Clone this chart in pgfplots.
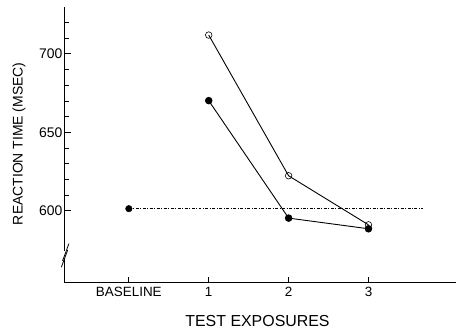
\documentclass[border=0pt]{standalone}
\usepackage{pgfplots}
\pgfplotsset{compat=1.18}
\usepackage{fontspec}
\setmainfont{Liberation Sans}
\begin{document}
\begin{tikzpicture}
\begin{axis}[
  scale only axis,
  width=391bp, height=276bp,
  xmin=-0.8, xmax=4.09,
  ymin=554.1, ymax=729.9,
  axis x line=bottom, axis y line=left,
  axis line style={-, line width=0.9pt},
  xtick={0,1,2,3},
  xticklabels={BASELINE,1,2,3},
  ytick={600,650,700},
  minor ytick={610,620,630,640,660,670,680,690,710,720},
  xtick align=inside, ytick align=inside,
  every tick/.style={black, line width=0.8pt},
  major tick length=6bp,
  minor tick length=4bp,
  /pgf/number format/assume math mode=true,
  xticklabel style={font=\fontsize{13.5}{15}\selectfont, yshift=-1bp},
  yticklabel style={font=\fontsize{14}{16}\selectfont, xshift=1bp},
  xlabel={TEST EXPOSURES},
  ylabel={REACTION TIME (MSEC)},
  xlabel style={font=\fontsize{16}{18}\selectfont, at={([yshift=-38bp]axis description cs:0.493,0)}, anchor=center},
  ylabel style={font=\fontsize{14}{16}\selectfont, at={([xshift=-46bp]axis description cs:0,0.504)}, anchor=center},
  clip=false,
]
\addplot[black, line width=0.6pt, dash pattern=on 3pt off 1.5pt on 1pt off 1.5pt] coordinates {(0,601.3) (3.68,601.3)};
\addplot[black, line width=0.9pt, mark=*, mark size=3.3pt] coordinates {(1,670.2) (2,595.3) (3,588.5)};
\addplot[black, mark=*, mark size=3.3pt, only marks] coordinates {(0,601.3)};
\addplot[black, line width=0.9pt, mark=o, mark size=3.3pt, mark options={fill=white, line width=0.6pt}] coordinates {(1,712) (2,622.3) (3,591)};
\draw[white, line width=3pt] (axis cs:-0.8,569) -- (axis cs:-0.8,574.5);
\draw[black, line width=0.8pt] (axis cs:-0.845,564) -- (axis cs:-0.765,575);
\draw[black, line width=0.8pt] (axis cs:-0.83,568) -- (axis cs:-0.75,579);
\path ([yshift=7bp]rel axis cs:0,1);
\path ([xshift=-65bp,yshift=-51bp]rel axis cs:0,0);
\end{axis}
\end{tikzpicture}
\end{document}
